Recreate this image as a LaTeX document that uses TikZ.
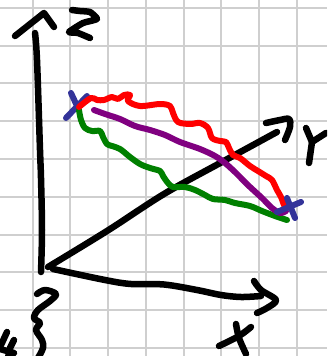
\documentclass[tikz,border=0pt]{standalone}
\definecolor{gridgray}{HTML}{CFCFCF}
\definecolor{penred}{HTML}{FF0000}
\definecolor{pengreen}{HTML}{008000}
\definecolor{penpurple}{HTML}{800080}
\definecolor{penblue}{HTML}{333399}
\tikzset{
  gridline/.style={gridgray,line width=2pt},
  pen/.style={line width=6pt,line cap=round,line join=round},
  ink/.style={pen,black,line width=6.5pt},
  sm/.style={smooth,tension=0.55},
}
\begin{document}
\begin{tikzpicture}[x=1pt,y=-1pt]
\useasboundingbox (0,0) rectangle (327,356);
\clip (0,0) rectangle (327,356);
\fill[white] (0,0) rectangle (327,356);
% grid
\foreach \gx in {32.5,70,108,146,184,221,259,297} \draw[gridline] (\gx,0) -- (\gx,356);
\foreach \gy in {8,45.7,83,121,159,197,235,272,310,348} \draw[gridline] (0,\gy) -- (327,\gy);
% axes
\draw[ink] plot[sm] coordinates {(41,272) (42,230) (41,178) (40,150) (37,60) (35,33)};
\draw[ink] (15,36) -- (44,13) -- (54,27);
\draw[ink] plot[sm] coordinates {(48,267) (107,231) (164,194) (222,162) (277,132)};
\draw[ink] plot[sm] coordinates {(266,123) (280,120) (289,119) (290,127) (285,140)};
\draw[ink] plot[sm] coordinates {(53,269) (105,280) (131,284) (164,284.5) (197,290) (221,295) (241,297) (261,296)};
\draw[ink] plot[sm] coordinates {(254,281) (261,290) (276,300) (267,308) (257,313)};
% hand-written letters
\draw[ink] plot[smooth,tension=0.3] coordinates {(72,10) (80,11) (90,12) (97,19) (83,23) (69,32) (78,33) (90,38)};
\draw[ink] (306,128) -- (312,142) -- (326,133);
\draw[ink] (312,142) -- (309,163);
\draw[ink] plot[sm] coordinates {(236,324) (239,338) (246,354)};
\draw[ink] plot[sm] coordinates {(251,327) (239,336) (219,346)};
% squiggle and cut-off letter
\draw[ink] plot[sm] coordinates {(37,294) (45,290) (56,294) (50,301) (38,310) (34,318) (40,323) (36,330) (42,340) (43,348) (38,358)};
\draw[ink] (7,332) -- (1,345);
\draw[ink] (14,340) -- (10,348) -- (8,358);
\draw[ink] (0,349) -- (14,353);
% first cross
\draw[pen,penblue] (71,93) -- (78,108);
\draw[pen,penblue] (87,96) -- (66,118);
% curves
\draw[pen,pengreen] plot[sm] coordinates {(79,110) (81,120) (85,128) (92,131) (100,131) (103,137) (107,144) (112,146) (120,149) (130,157) (140,164) (150,168) (160,171) (163,176) (168,183) (173,187) (185,187) (195,190) (205,195) (213,199) (225,200) (235,203) (250,206) (262,211) (275,216) (287,220)};
\draw[pen,penpurple] plot[sm] coordinates {(94,110) (105,114) (120,119) (135,126) (150,130) (165,135) (180,142) (200,149) (215,156) (225,163) (235,172) (240,177) (250,187) (262,198) (272,208) (280,213) (286,211)};
\draw[pen,penred] plot[sm] coordinates {(79,107) (91,98) (97,100) (104,100) (112,97) (118,99) (124,95) (130,95) (128,101) (140,106) (160,104) (170,106) (173,113) (178,122) (190,124) (200,123) (208,128) (212,138) (220,141) (226,142) (229,148) (233,155) (240,158) (250,166) (258,171) (266,176) (272,180) (277,190) (281,197) (284,205) (286,208)};
% second cross
\draw[pen,penblue] (287,198) -- (295,218);
\draw[pen,penblue] (277,212) -- (301,202);
\end{tikzpicture}
\end{document}
